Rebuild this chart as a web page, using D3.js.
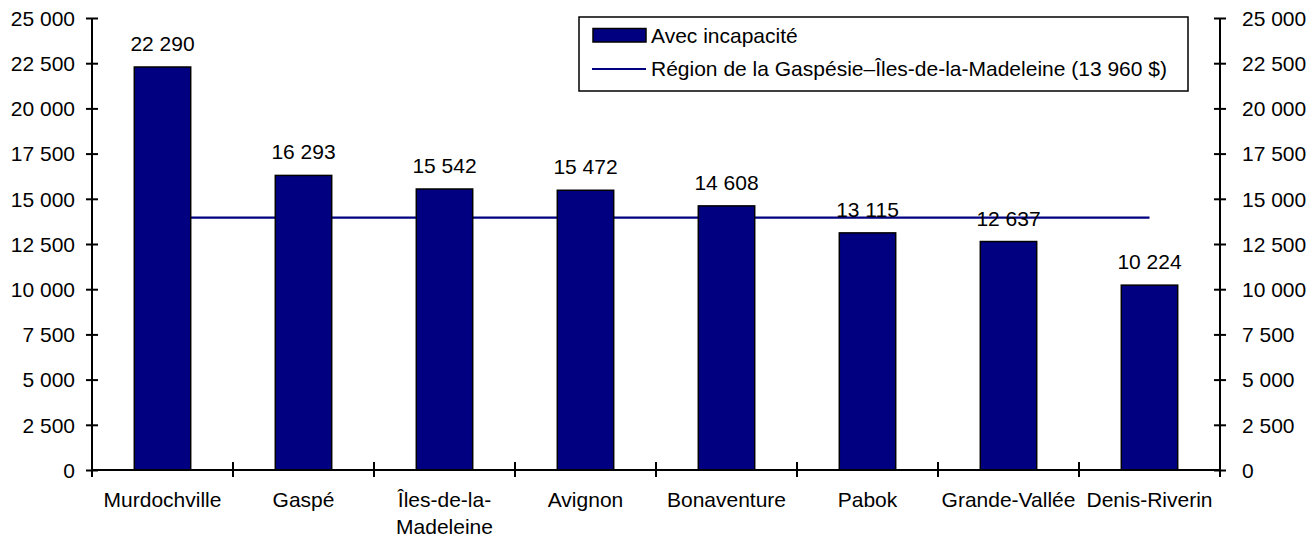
<!DOCTYPE html>
<html><head><meta charset="utf-8">
<script src="https://cdn.jsdelivr.net/npm/d3@7"></script>
<style>body{margin:0;background:#fff}svg{display:block}text{font-family:"Liberation Sans",Arial,sans-serif;font-size:21px;fill:#000}</style>
</head><body><svg id="c" width="1313" height="538"></svg>
<script>
const categories = ["Murdochville","Gaspé","Îles-de-la-\nMadeleine","Avignon","Bonaventure","Pabok","Grande-Vallée","Denis-Riverin"];
const values = [22290,16293,15542,15472,14608,13115,12637,10224];
const regionValue = 13960;
const yTicks = [0,2500,5000,7500,10000,12500,15000,17500,20000,22500,25000];
const legendLabels = ["Avec incapacité","Région de la Gaspésie–Îles-de-la-Madeleine (13 960 $)"];

const navy = "#000080";
const svg = d3.select("#c");
const loc = d3.formatLocale({decimal:",", thousands:"\u00a0", grouping:[3], currency:["","$"]});
const fmt = loc.format(",d");

const x = d3.scaleBand().domain(categories).range([92,1220]).paddingInner(0.6).paddingOuter(0.3);
const y = d3.scaleLinear().domain([0,25000]).range([470,18]);

// region line (behind bars)
svg.append("line")
  .attr("x1", x(categories[0]) + x.bandwidth()/2)
  .attr("x2", x(categories[categories.length-1]) + x.bandwidth()/2)
  .attr("y1", y(regionValue)).attr("y2", y(regionValue))
  .attr("stroke", navy).attr("stroke-width", 2.2);

// bars
svg.selectAll("rect.bar").data(values).enter().append("rect")
  .attr("class","bar")
  .attr("x",(d,i)=>x(categories[i]))
  .attr("width", x.bandwidth())
  .attr("y", d=>y(d))
  .attr("height", d=>y(0)-y(d))
  .attr("fill", navy).attr("stroke","#000").attr("stroke-width",1.5);

// value labels
svg.selectAll("text.val").data(values).enter().append("text")
  .attr("class","val")
  .attr("x",(d,i)=>x(categories[i])+x.bandwidth()/2)
  .attr("y", d=>y(d)-16)
  .attr("text-anchor","middle")
  .text(d=>fmt(d));

// left axis
const gl = svg.append("g").attr("transform","translate(92,0)");
gl.call(d3.axisLeft(y).tickValues(yTicks).tickFormat(fmt).tickSize(6).tickPadding(11));
gl.select(".domain").remove();
gl.selectAll(".tick line").attr("x1",-6).attr("x2",6).attr("stroke","#000").attr("stroke-width",2);
gl.selectAll(".tick text").style("font-size","21px").style("font-family","Liberation Sans, Arial, sans-serif").attr("dy","0.35em");
gl.append("line").attr("x1",0).attr("x2",0).attr("y1",y(25000)).attr("y2",477).attr("stroke","#000").attr("stroke-width",2);

// right axis
const gr = svg.append("g").attr("transform","translate(1220,0)");
gr.call(d3.axisRight(y).tickValues(yTicks).tickFormat(fmt).tickSize(6).tickPadding(16));
gr.select(".domain").remove();
gr.selectAll(".tick line").attr("x1",-6).attr("x2",6).attr("stroke","#000").attr("stroke-width",2);
gr.selectAll(".tick text").style("font-size","21px").style("font-family","Liberation Sans, Arial, sans-serif").attr("dy","0.35em");
gr.append("line").attr("x1",0).attr("x2",0).attr("y1",y(25000)).attr("y2",477).attr("stroke","#000").attr("stroke-width",2);

// x axis baseline
svg.append("line").attr("x1",92).attr("x2",1220).attr("y1",y(0)).attr("y2",y(0)).attr("stroke","#000").attr("stroke-width",2);
// category boundary ticks
const step = x.step();
const bounds = d3.range(1, categories.length).map(i => x(categories[i]) - x.paddingInner()*step/2);
svg.selectAll("line.ct").data(bounds).enter().append("line")
  .attr("class","ct").attr("x1",d=>d).attr("x2",d=>d)
  .attr("y1",y(0)-8).attr("y2",y(0)+7).attr("stroke","#000").attr("stroke-width",2);

// category labels
svg.selectAll("text.cat").data(categories).enter().append("text")
  .attr("class","cat")
  .attr("x",d=>x(d)+x.bandwidth()/2)
  .attr("y",507)
  .attr("text-anchor","middle")
  .each(function(d){
    const parts = d.split("\n");
    d3.select(this).selectAll("tspan").data(parts).enter().append("tspan")
      .attr("x", x(d)+x.bandwidth()/2)
      .attr("dy",(p,i)=>i===0?0:27)
      .text(p=>p);
  });

// legend
const lg = svg.append("g");
lg.append("rect").attr("x",579).attr("y",17).attr("width",609).attr("height",74)
  .attr("fill","#fff").attr("stroke","#000").attr("stroke-width",1.5);
lg.append("rect").attr("x",593).attr("y",28.5).attr("width",53).attr("height",13.5)
  .attr("fill",navy).attr("stroke","#000").attr("stroke-width",1.5);
lg.append("text").attr("x",651).attr("y",43).text(legendLabels[0]);
lg.append("line").attr("x1",592).attr("x2",646).attr("y1",69).attr("y2",69).attr("stroke",navy).attr("stroke-width",2);
lg.append("text").attr("x",651).attr("y",76).text(legendLabels[1]);
</script></body></html>
